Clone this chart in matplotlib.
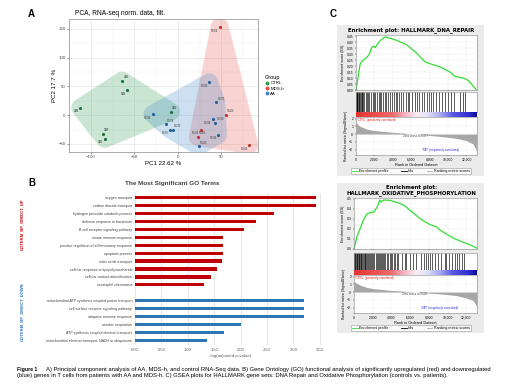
import numpy as np
import matplotlib
matplotlib.use('Agg')
import matplotlib.pyplot as plt
from matplotlib.colors import LinearSegmentedColormap
from matplotlib.lines import Line2D
from matplotlib.patches import Rectangle

plt.rcParams['font.family'] = ['Liberation Sans', 'DejaVu Sans']

# ---------------- data ----------------
# Panel A: PCA
ctrl_x = [-112, -64, -58, -86, -84, -8]
ctrl_y = [13, 60, 43, -33, -41, 6]
ctrl_lab = ['CM4', 'CM2', 'CM6', 'CM5', 'CM3', 'CM1']
mds_x = [48, 55, 26, 23, 82]
mds_y = [153, 0, -25, -38, -52]
mds_lab = ['P1366', 'P1406', 'P1392', 'P1401', 'P1413']
aa_x = [-29, -14, -9, -6, 36, 44, 40, 43, 46, 24]
aa_y = [2, -16, -25, -25, 57, 22, -7, -13, -34, -54]
aa_lab = ['P1388', 'P1374', 'P1367', 'P1372', 'P1385', 'P1373', 'P1396', 'P1380', 'P1399', 'P1410']
pca_xticks = [-100, -50, 0, 50]
pca_yticks = [-50, 0, 50, 100, 150]

# Panel B: GO terms
up_terms = ['oxygen transport', 'carbon dioxide transport', 'hydrogen peroxide catabolic process',
            'defense response to bacterium', 'B cell receptor signaling pathway', 'innate immune response',
            'positive regulation of inflammatory response', 'apoptotic process', 'nitric oxide transport',
            'cellular response to lipopolysaccharide', 'cellular oxidant detoxification', 'neutrophil chemotaxis']
up_vals = [3.42, 3.43, 2.63, 2.29, 2.07, 1.67, 1.67, 1.67, 1.65, 1.56, 1.44, 1.31]
down_terms = ['mitochondrial ATP synthesis coupled proton transport', 'cell surface receptor signaling pathway',
              'adaptive immune response', 'aerobic respiration', 'ATP synthesis coupled electron transport',
              'mitochondrial electron transport, NADH to ubiquinone']
down_vals = [3.21, 3.21, 3.21, 2.01, 1.69, 1.36]
go_xticks = [0.0, 0.5, 1.0, 1.5, 2.0, 2.5, 3.0, 3.5]

# Panel C: GSEA, DNA repair
dna_rank = [0, 80, 230, 460, 770, 1150, 1460, 1730, 1920, 2100, 2380, 2690, 3080, 3330, 3460, 3850,
            4420, 5500, 6590, 7490, 8040, 9120, 10200, 10750, 11660, 12200, 13100]
dna_es = [0.0, 0.04, 0.11, 0.22, 0.25, 0.27, 0.30, 0.36, 0.367, 0.355, 0.39, 0.417, 0.44, 0.444, 0.437, 0.43,
          0.415, 0.379, 0.308, 0.236, 0.22, 0.194, 0.151, 0.114, 0.10, 0.08, 0.0]
dna_hits = [20, 60, 110, 160, 230, 300, 380, 450, 540, 620, 700, 800, 900, 1050, 1200, 1350, 1450, 1600,
            1800, 1950, 2100, 2300, 2450, 2600, 2750, 2900, 3100, 3300, 3500, 3700, 3900, 4100, 4300, 4500,
            4700, 4900, 5150, 5400, 5600, 5800, 6100, 6400, 6650, 6900, 7150, 7400, 7700, 7900, 8100, 8400,
            8700, 9000, 9300, 9650, 10000, 10350, 10700, 11250, 11600, 11800]
dna_mrank = [0, 150, 430, 1160, 1880, 3700, 5500, 6440, 7300, 9120, 10930, 12000, 12740, 13030, 13100]
dna_metric = [1.6, 1.3, 1.0, 0.64, 0.47, 0.26, 0.09, 0.0, -0.1, -0.3, -0.55, -0.85, -1.3, -2.0, -2.3]
dna_zero = 6477

# Panel C: GSEA, oxidative phosphorylation
ox_rank = [0, 354, 637, 1060, 1416, 1770, 2124, 2480, 2760, 2900, 3190, 3890, 4420, 5310, 6200, 7260,
           8140, 8850, 9180, 10600, 11680, 12390, 13100]
ox_es = [0.0, 0.135, 0.20, 0.30, 0.355, 0.365, 0.37, 0.42, 0.49, 0.47, 0.49, 0.486, 0.47, 0.44, 0.37, 0.29,
         0.243, 0.22, 0.19, 0.11, 0.066, 0.043, 0.01]
ox_hits = [30, 90, 150, 220, 290, 360, 430, 500, 580, 650, 730, 800, 880, 960, 1050, 1130, 1220, 1300,
           1400, 1500, 1600, 1700, 1800, 1900, 2000, 2150, 2300, 2450, 2600, 2700, 2800, 2900, 3000, 3100,
           3200, 3350, 3500, 3650, 3800, 3950, 4100, 4250, 4400, 4550, 4700, 5100, 5400, 5600, 5950, 6300,
           6650, 7150, 7500, 7700, 7900, 8100, 8300, 8650, 9000, 9350, 9700, 9850, 10200, 10450, 10750,
           11000, 11250, 11500, 11750]
ox_mrank = [0, 200, 640, 1350, 2060, 3840, 5620, 6500, 7400, 9180, 10960, 12030, 12740, 13100]
ox_metric = [1.4, 1.2, 0.9, 0.6, 0.45, 0.23, 0.09, 0.0, -0.09, -0.23, -0.45, -0.77, -1.1, -1.8]
ox_zero = 6502
rank_ticks = [0, 2000, 4000, 6000, 8000, 10000, 12000]

# ---------------- figure ----------------
W, H = 520, 390
fig = plt.figure(figsize=(5.2, 3.9), dpi=100)


def box(x0, y0, x1, y1):
    return [x0 / W, 1 - y1 / H, (x1 - x0) / W, (y1 - y0) / H]


def fx(x):
    return x / W


def fy(y):
    return 1 - y / H


def convex_hull(points):
    pts = sorted(set(map(tuple, np.round(points, 4))))
    if len(pts) < 3:
        return np.array(pts)

    def cross(o, a, b):
        return (a[0] - o[0]) * (b[1] - o[1]) - (a[1] - o[1]) * (b[0] - o[0])
    lower, upper = [], []
    for p in pts:
        while len(lower) >= 2 and cross(lower[-2], lower[-1], p) <= 0:
            lower.pop()
        lower.append(p)
    for p in reversed(pts):
        while len(upper) >= 2 and cross(upper[-2], upper[-1], p) <= 0:
            upper.pop()
        upper.append(p)
    return np.array(lower[:-1] + upper[:-1])


def rounded_hull(ax, xs, ys, color, r=9.0, n=48):
    disp = ax.transData.transform(np.column_stack([xs, ys]))
    ang = np.linspace(0, 2 * np.pi, n, endpoint=False)
    circ = np.stack([np.cos(ang), np.sin(ang)], -1) * r
    cloud = (disp[:, None, :] + circ[None, :, :]).reshape(-1, 2)
    h = convex_hull(cloud)
    d = ax.transData.inverted().transform(h)
    ax.fill(d[:, 0], d[:, 1], color=color, alpha=0.25, lw=0, zorder=1)


# Panel letters
fig.text(fx(28), fy(14), 'A', fontsize=7, fontweight='bold', va='center')
fig.text(fx(28), fy(183), 'B', fontsize=7, fontweight='bold', va='center')
fig.text(fx(330), fy(14), 'C', fontsize=7, fontweight='bold', va='center')

# ---------------- Panel A ----------------
axA = fig.add_axes(box(69, 19, 258, 152))
axA.set_xlim(-125, 92)
axA.set_ylim(-64, 167)
axA.set_xticks(pca_xticks)
axA.set_yticks(pca_yticks)
axA.set_xticks([-125, -75, -25, 25, 75], minor=True)
axA.set_yticks([-25, 25, 75, 125], minor=True)
axA.grid(True, which='major', color='#e6e6e6', lw=0.5)
axA.grid(True, which='minor', color='#f2f2f2', lw=0.35)
axA.set_axisbelow(True)
for s in axA.spines.values():
    s.set_color('#8c8c8c')
    s.set_linewidth(0.5)
axA.tick_params(labelsize=3.2, colors='#4d4d4d', length=1.5, width=0.4, pad=1)
axA.tick_params(which='minor', length=0)
axA.set_xlabel('PC1 22.62 %', fontsize=4.4, labelpad=1)
axA.set_ylabel('PC2 17.7 %', fontsize=4.4, labelpad=1)
axA.set_title('PCA, RNA-seq norm. data, filt.', fontsize=4.8, loc='left', pad=3, x=0.03)

grp = [('CTRL', ctrl_x, ctrl_y, ctrl_lab, '#2e9e4f', '#17703a'),
       ('MDS-h', mds_x, mds_y, mds_lab, '#e8514a', '#c0302a'),
       ('AA', aa_x, aa_y, aa_lab, '#3a86c8', '#1f5f9a')]
for name, xs, ys, labs, c, ec in grp:
    rounded_hull(axA, xs, ys, c)
for name, xs, ys, labs, c, ec in grp:
    axA.scatter(xs, ys, s=5, color=ec, zorder=3, lw=0)
    for i, (x, y, l) in enumerate(zip(xs, ys, labs)):
        if i % 2 == 0:
            axA.text(x - 1.5, y - 3, l, fontsize=1.8, color='#333333', ha='right', va='top', zorder=4)
        else:
            axA.text(x + 1.5, y + 3, l, fontsize=1.8, color='#333333', ha='left', va='bottom', zorder=4)

handles = [Line2D([], [], marker='o', ls='', ms=1.8, color=g[4]) for g in grp]
legA = fig.legend(handles, [g[0] for g in grp], title='Group', loc='upper left',
                  bbox_to_anchor=(fx(262), fy(72)), frameon=False, fontsize=3.2,
                  title_fontsize=4.0, handletextpad=0.2, labelspacing=0.25, borderpad=0.2,
                  handlelength=1.0)
legA._legend_box.align = 'left'

# ---------------- Panel B ----------------
axB = fig.add_axes(box(135, 193, 325, 345))
n_up = len(up_terms)
pos_up = np.arange(n_up)
pos_dn = np.arange(n_up + 1, n_up + 1 + len(down_terms))
axB.barh(pos_up, up_vals, height=0.42, color='#c00000', zorder=2)
axB.barh(pos_dn, down_vals, height=0.42, color='#2e75b6', zorder=2)
axB.set_ylim(n_up + len(down_terms) + 0.6, -0.6)
axB.set_xlim(0, 3.6)
axB.set_xticks(go_xticks)
axB.set_xticklabels(['%.2f' % v for v in go_xticks])
axB.set_yticks(list(pos_up) + list(pos_dn))
axB.set_yticklabels(up_terms + down_terms)
axB.grid(True, axis='x', color='#d9d9d9', lw=0.5, zorder=0)
for s in axB.spines.values():
    s.set_visible(False)
axB.tick_params(axis='y', labelsize=2.6, colors='#404040', length=0, pad=2)
axB.tick_params(axis='x', labelsize=3.0, colors='#595959', length=0, pad=2)
axB.set_xlabel('-log(adjusted p-value)', fontsize=3.2, color='#595959', labelpad=1.5)
fig.text(fx(172), fy(183), 'The Most Significant GO Terms', fontsize=4.6, fontweight='bold',
         color='#404040', ha='center', va='center')
fig.text(fx(22), fy(224), 'GOTERM_BP_DIRECT_UP', rotation=90, fontsize=3.0, fontweight='bold',
         color='#c00000', ha='center', va='center')
fig.text(fx(22), fy(312), 'GOTERM_BP_DIRECT_DOWN', rotation=90, fontsize=3.0, fontweight='bold',
         color='#2e75b6', ha='center', va='center')

# ---------------- Panel C ----------------
cmap = LinearSegmentedColormap.from_list('gsea', [
    (0.0, '#e63333'), (0.30, '#ee6a6a'), (0.40, '#f3b0c0'), (0.50, '#fbeaf2'),
    (0.58, '#e6e6fa'), (0.70, '#a8a8f0'), (0.80, '#5a5ae6'), (0.93, '#3030d0'), (1.0, '#0a0a9a')])


def gsea(title_lines, bg, es_box, hit_box, grad_box, rank_box, ty, leg_y,
         rank, es, hits, mrank, metric, zero, es_ticks, es_fmt, es_top):
    fig.add_artist(Rectangle((fx(bg[0]), fy(bg[3])), (bg[2] - bg[0]) / W, (bg[3] - bg[1]) / H,
                             transform=fig.transFigure, facecolor='#ebebeb', edgecolor='none',
                             zorder=-5))
    for t, yy in zip(title_lines, ty):
        fig.text(fx((bg[0] + bg[2]) / 2 + 1), fy(yy), t, fontsize=3.9, fontweight='bold',
                 ha='center', va='center', family=['DejaVu Sans'])
    xmax = 13150
    a1 = fig.add_axes(box(*es_box))
    a1.plot(rank, es, color='#33dd33', lw=0.9)
    a1.set_xlim(0, xmax)
    a1.set_ylim(0, es_top)
    a1.set_yticks(es_ticks)
    a1.set_yticklabels([es_fmt % v for v in es_ticks])
    a1.set_xticks(rank_ticks)
    a1.tick_params(labelbottom=False, length=1, width=0.3, labelsize=2.4, pad=1)
    a1.grid(True, color='#cccccc', lw=0.3, ls=':')
    a1.set_ylabel('Enrichment score (ES)', fontsize=2.6, labelpad=1)
    for s in a1.spines.values():
        s.set_linewidth(0.4)
        s.set_color('#888888')

    a2 = fig.add_axes(box(*hit_box))
    a2.vlines(hits, 0, 1, color='black', lw=0.45)
    a2.set_xlim(0, xmax)
    a2.set_ylim(0, 1)
    a2.set_xticks([])
    a2.set_yticks([])
    for s in a2.spines.values():
        s.set_linewidth(0.4)
        s.set_color('#888888')

    a3 = fig.add_axes(box(*grad_box))
    a3.imshow(np.linspace(0, 1, 256)[None, :], aspect='auto', cmap=cmap,
              extent=[0, rank[-1], 0, 1])
    a3.set_xlim(0, xmax)
    a3.axis('off')

    a4 = fig.add_axes(box(*rank_box))
    a4.fill_between(mrank, metric, 0, color='#a6a6a6', lw=0)
    a4.set_xlim(0, xmax)
    a4.set_ylim(-2.7, 2.2)
    a4.set_yticks([2, 1, 0, -1, -2])
    a4.set_xticks(rank_ticks)
    a4.set_xticklabels(['{:,}'.format(v) for v in rank_ticks])
    a4.tick_params(length=1, width=0.3, labelsize=2.4, pad=1)
    a4.grid(True, color='#dddddd', lw=0.3, ls=':')
    a4.set_xlabel('Rank in Ordered Dataset', fontsize=2.8, labelpad=1)
    a4.set_ylabel('Ranked list metric (Signal2Noise)', fontsize=2.4, labelpad=1)
    a4.text(150, 2.05, "'CTRL' (positively correlated)", color='#e02020', fontsize=2.2, va='top')
    a4.text(zero, -0.2, 'Zero cross at %d' % zero, color='#404040', fontsize=2.2, ha='center',
            va='center')
    a4.text(7200, -2.05, "'PAT' (negatively correlated)", color='#3030d0', fontsize=2.2,
            va='center')
    for s in a4.spines.values():
        s.set_linewidth(0.4)
        s.set_color('#888888')

    hl = [Line2D([], [], color='#33dd33', lw=0.6), Line2D([], [], color='black', lw=0.6),
          Line2D([], [], color='#aaaaaa', lw=0.6)]
    lg = fig.legend(hl, ['Enrichment profile', 'Hits', 'Ranking metric scores'], loc='center',
                    bbox_to_anchor=(fx(411), fy(leg_y)), ncol=3, fontsize=2.6, frameon=True,
                    fancybox=False, edgecolor='#888888', handlelength=1.5, columnspacing=3.5,
                    handletextpad=0.4, borderpad=0.3)
    lg.get_frame().set_linewidth(0.4)


gsea(['Enrichment plot: HALLMARK_DNA_REPAIR'], (337, 25, 484, 176),
     (356, 35, 477, 90), (356, 92, 477, 112), (356, 112, 477, 117), (356, 117, 477, 155),
     [30], 171, dna_rank, dna_es, dna_hits, dna_mrank, dna_metric, dna_zero,
     [0.0, 0.05, 0.10, 0.15, 0.20, 0.25, 0.30, 0.35, 0.40, 0.45], '%.2f', 0.46)

gsea(['Enrichment plot:', 'HALLMARK_OXIDATIVE_PHOSPHORYLATION'], (337, 183, 484, 333),
     (354, 198, 477, 249), (354, 253, 477, 270), (354, 270, 477, 275), (354, 275, 477, 313),
     [187, 193.5], 328, ox_rank, ox_es, ox_hits, ox_mrank, ox_metric, ox_zero,
     [0.0, 0.1, 0.2, 0.3, 0.4, 0.5], '%.1f', 0.51)

# ---------------- caption ----------------
cap1 = ('A) Principal component analysis of AA, MDS-h, and control RNA-Seq data. B) Gene Ontology (GO) '
        'functional analysis of significantly upregulated (red) and downregulated')
cap2 = ('(blue) genes in T cells from patients with AA and MDS-h. C) GSEA plots for HALLMARK gene sets: '
        'DNA Repair and Oxidative Phosphorylation (controls vs. patients).')
fig.text(fx(17), fy(369), 'Figure 1', fontsize=3.7, fontweight='bold', va='center')
t1 = fig.text(fx(46), fy(369), cap1, fontsize=3.7, va='center')
t2 = fig.text(fx(17), fy(375.5), cap2, fontsize=3.7, va='center')
r = fig.canvas.get_renderer()
w1 = t1.get_window_extent(r).width
t1.set_fontsize(3.7 * (493 - 46) / w1)
t2.set_fontsize(3.7 * (493 - 46) / w1)

fig.savefig('out.png', dpi=100, facecolor='white')
